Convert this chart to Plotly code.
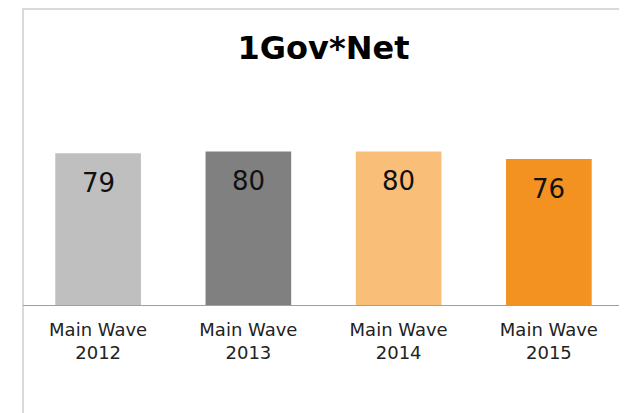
import plotly.graph_objects as go

categories = ["Main Wave<br>2012", "Main Wave<br>2013", "Main Wave<br>2014", "Main Wave<br>2015"]
values = [79, 80, 80, 76]
colors = ["#BFBFBF", "#808080", "#F9BF78", "#F39220"]
title = "1Gov*Net"

# page body has an 8px default margin; size the figure to fit the window
OFF = 8
W, H = 627 - OFF, 413 - OFF
L, R, T, B = 23 - OFF, 3, 113 - OFF, 108

fig = go.Figure()
fig.add_trace(go.Bar(
    x=categories, y=values, marker=dict(color=colors, line=dict(width=0)),
    width=0.57, hoverinfo="skip",
))

for c, v in zip(categories, values):
    fig.add_annotation(x=c, y=v, text=str(v), showarrow=False,
                       yanchor="middle", yshift=-30,
                       font=dict(family="DejaVu Sans", size=26, color="#111111"))

# border (open at bottom)
plot_h = H - T - B
top_paper = (plot_h + T - 1) / plot_h
fig.add_shape(type="rect", xref="paper", yref="paper", x0=0, x1=1,
              y0=-1, y1=top_paper, line=dict(color="#D9D9D9", width=2),
              fillcolor="rgba(0,0,0,0)", layer="below")

fig.update_layout(
    width=W, height=H,
    margin=dict(l=L, r=R, t=T, b=B, pad=0),
    paper_bgcolor="white", plot_bgcolor="white",
    showlegend=False,
    title=dict(text="<b>" + title + "</b>", x=0.5, xref="paper", xanchor="center",
               y=1 - (48 - OFF) / H, yref="container", yanchor="middle",
               font=dict(family="DejaVu Sans", size=32, color="#000000")),
    xaxis=dict(showline=True, linecolor="#A0A0A0", linewidth=1, ticks="",
               showgrid=False, zeroline=False, ticklabelstandoff=8,
               tickfont=dict(family="DejaVu Sans", size=18, color="#222222")),
    yaxis=dict(range=[0, 100], visible=False, showgrid=False, zeroline=False),
)

fig.write_html("out.html")
